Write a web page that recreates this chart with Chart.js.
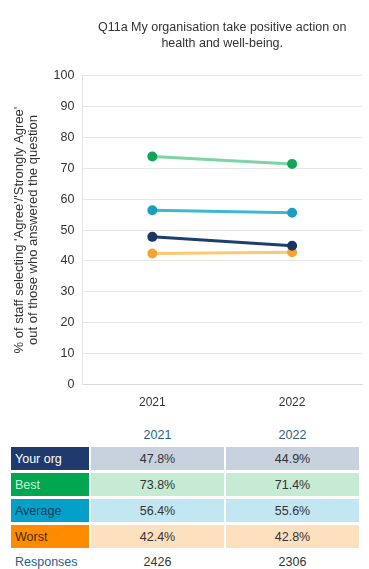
<!DOCTYPE html>
<html>
<head>
<meta charset="utf-8">
<script src="https://cdn.jsdelivr.net/npm/chart.js@4.4.0/dist/chart.umd.min.js"></script>
<style>
  body { margin: 0; background: #fff; font-family: "Liberation Sans", Arial, sans-serif; }
  #wrap { position: absolute; left: 0; top: 0; width: 369px; height: 415px; }
  #tbl { position: absolute; left: 9px; top: 423px; border-collapse: separate; border-spacing: 2px 3px; font-size: 12.5px; }
  #tbl td { height: 23px; padding: 0; text-align: center; color: #333; }
  #tbl td.lab { width: 74px; text-align: left; padding-left: 4px; }
  #tbl td.val { width: 133px; }
  #tbl tr.head td { color: #2e5c8a; height: 18px; }
  #tbl tr.resp td { color: #333; height: 22px; }
  #tbl tr.resp td.lab { color: #2e5c8a; }
</style>
</head>
<body>
<div id="wrap"><canvas id="qChart"></canvas></div>
<table id="tbl"></table>
<script>
// Chart values
const years = ['2021', '2022'];
const yourOrg = [47.8, 44.9];
const best = [73.8, 71.4];
const average = [56.4, 55.6];
const worst = [42.4, 42.8];
const responses = [2426, 2306];

// series name, line colour, marker colour, label cell colours, value cell colour
const series = [
    { name: 'Your org', data: yourOrg, line: '#1f3e6d', dot: '#1a3763', labBg: '#1f3b6e', labFg: '#ffffff', valBg: '#c8d2df' },
    { name: 'Best', data: best, line: '#7fd4a4', dot: '#13a55a', labBg: '#00a650', labFg: '#c8f2da', valBg: '#c5ebd5' },
    { name: 'Average', data: average, line: '#3fb6d3', dot: '#1b9fbd', labBg: '#05a0c8', labFg: '#1b3a5c', valBg: '#c2e6f2' },
    { name: 'Worst', data: worst, line: '#fcc870', dot: '#f3a433', labBg: '#ff8c00', labFg: '#4a2a05', valBg: '#fde0be' }
];

const ctx = document.getElementById('qChart').getContext('2d');

new Chart(ctx, {
    type: 'line',
    data: {
        labels: years,
        datasets: series.map(s => ({
            label: s.name,
            data: s.data,
            borderColor: s.line,
            backgroundColor: s.dot,
            pointBackgroundColor: s.dot,
            pointBorderColor: s.dot,
            pointRadius: 3.5,
            borderWidth: 3,
            fill: false
        }))
    },
    options: {
        responsive: true,
        maintainAspectRatio: false,
        animation: false,
        layout: { padding: { left: 12, right: 7, top: 19, bottom: 2 } },
        plugins: {
            legend: { display: false },
            tooltip: { enabled: false },
            title: {
                display: true,
                fullSize: false,
                text: ['Q11a My organisation take positive action on', 'health and well-being.'],
                color: '#333',
                font: { family: 'Liberation Sans', size: 12.5, weight: 'normal', lineHeight: 1.3 },
                padding: { top: 0, bottom: 24 }
            }
        },
        scales: {
            x: {
                offset: true,
                grid: { display: false },
                border: { color: '#d9d9d9' },
                ticks: { color: '#333', font: { family: 'Liberation Sans', size: 12 }, padding: 3 }
            },
            y: {
                min: 0,
                max: 100,
                ticks: { stepSize: 10, color: '#333', font: { family: 'Liberation Sans', size: 12.5 }, padding: 8 },
                grid: { color: '#e6e6e6', drawTicks: false },
                border: { color: '#e6e6e6' },
                title: {
                    display: true,
                    text: ["% of staff selecting 'Agree'/'Strongly Agree'", 'out of those who answered the question'],
                    color: '#333',
                    font: { family: 'Liberation Sans', size: 13, lineHeight: 1.1 },
                    padding: { top: 0, bottom: 5 }
                }
            }
        }
    }
});

// Build the table under the chart from the same arrays
const tbl = document.getElementById('tbl');
let html = '<tr class="head"><td class="lab"></td>' + years.map(y => '<td class="val">' + y + '</td>').join('') + '</tr>';
series.forEach(s => {
    html += '<tr><td class="lab" style="background:' + s.labBg + ';color:' + s.labFg + '">' + s.name + '</td>' +
        s.data.map(v => '<td class="val" style="background:' + s.valBg + '">' + v.toFixed(1) + '%</td>').join('') + '</tr>';
});
html += '<tr class="resp"><td class="lab">Responses</td>' + responses.map(r => '<td class="val">' + r + '</td>').join('') + '</tr>';
tbl.innerHTML = html;
</script>
</body>
</html>
